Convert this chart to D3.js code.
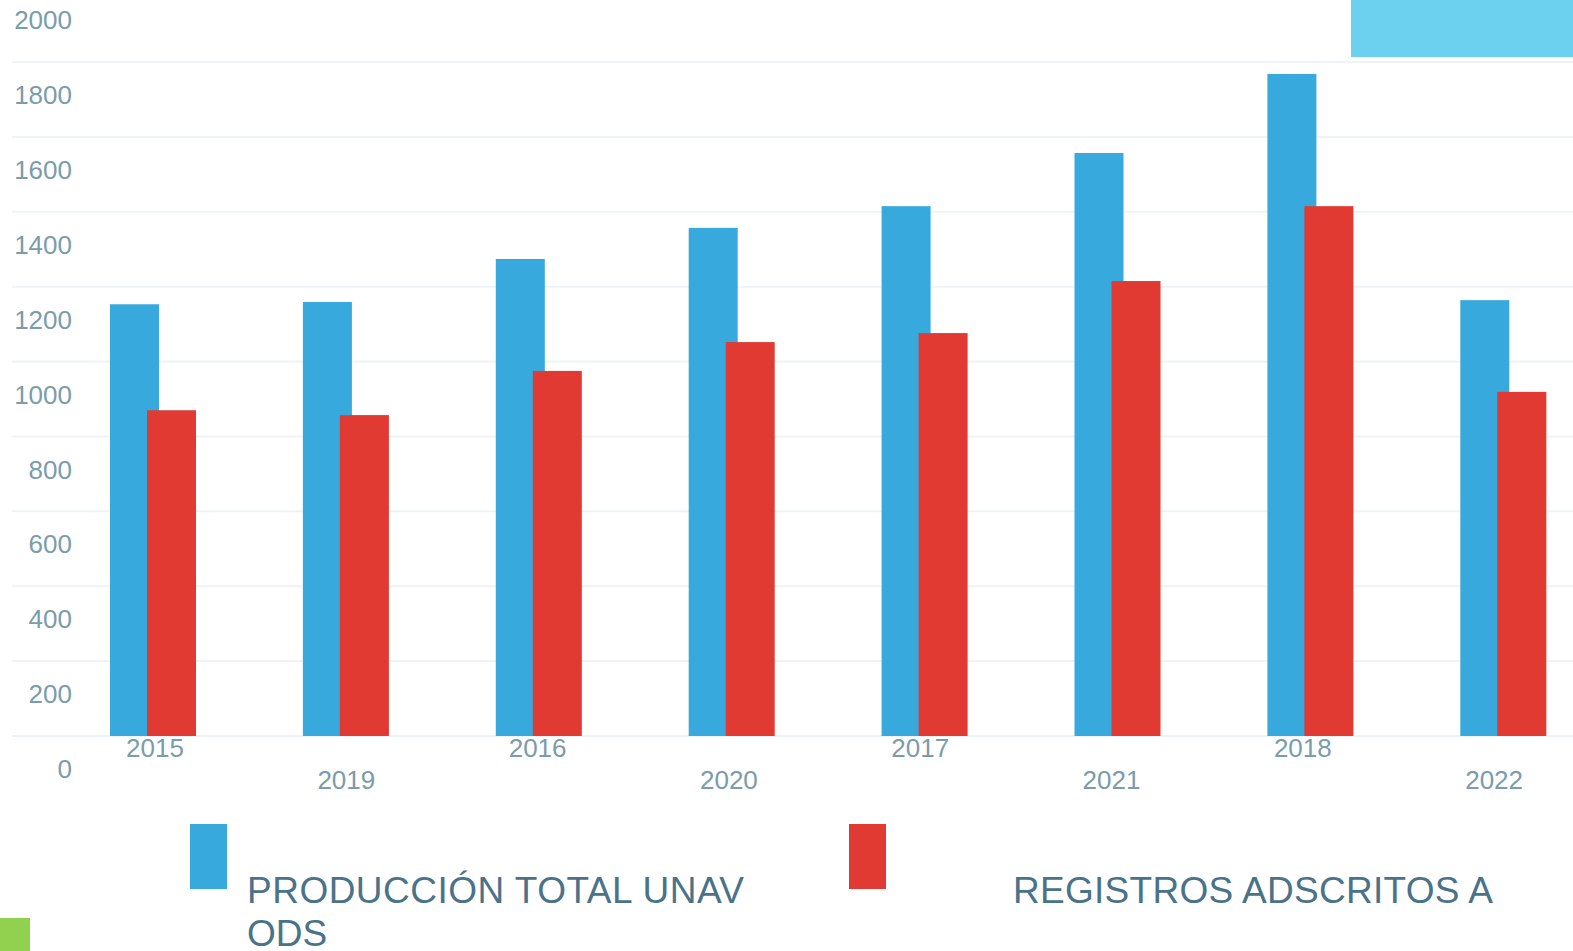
<!DOCTYPE html>
<html>
<head>
<meta charset="utf-8">
<script src="https://cdn.jsdelivr.net/npm/d3@7"></script>
<style>
  body { margin: 0; background: #fff; }
  svg { display: block; font-family: "Liberation Sans", Arial, sans-serif; }
</style>
</head>
<body>
<svg id="chart" width="1573" height="951"></svg>
<script>
// categories in the order they appear on the chart
let years = ["2015", "2019", "2016", "2020", "2017", "2021", "2018", "2022"];
let produccionTotal = [1153, 1159, 1274, 1357, 1415, 1557, 1768, 1164];
let registrosOds = [870, 857, 975, 1052, 1076, 1215, 1415, 919];
let yTicks = [0, 200, 400, 600, 800, 1000, 1200, 1400, 1600, 1800, 2000];
let seriesNames = ["PRODUCCIÓN TOTAL UNAV", "REGISTROS ADSCRITOS A"];

let svg = d3.select("#chart");
let blue = "#38a9dd", red = "#e03a33";

let y = d3.scaleLinear().domain([0, 1800]).range([736, 62]);
// bars and their labels run on slightly different steps in the original
let xBars = d3.scaleBand().domain(years).range([110, 110 + 8 * 192.9]).padding(0);
let xLabels = d3.scalePoint().domain(years).range([155, 155 + 7 * 191.3]);

// grid
svg.append("g")
    .selectAll("line")
    .data(yTicks.filter(d => y(d) > 0))
    .enter().append("line")
    .attr("x1", 12)
    .attr("x2", 1573)
    .attr("y1", d => y(d))
    .attr("y2", d => y(d))
    .attr("stroke", "#eef3f7")
    .attr("stroke-width", 2);

// y labels (sit about 33px below their gridline, as in the original)
svg.append("g")
    .selectAll("text")
    .data(yTicks)
    .enter().append("text")
    .attr("x", 72)
    .attr("y", d => y(d) + 33)
    .attr("dy", "0.35em")
    .attr("text-anchor", "end")
    .attr("fill", "#7a9cab")
    .style("font-size", "26px")
    .text(d => d);

let groups = svg.append("g")
    .selectAll("g")
    .data(years)
    .enter().append("g");

groups.append("rect")
    .attr("x", d => xBars(d))
    .attr("y", (d, i) => y(produccionTotal[i]))
    .attr("width", 49)
    .attr("height", (d, i) => y(0) - y(produccionTotal[i]))
    .attr("fill", blue);

groups.append("rect")
    .attr("x", d => xBars(d) + 37)
    .attr("y", (d, i) => y(registrosOds[i]))
    .attr("width", 49)
    .attr("height", (d, i) => y(0) - y(registrosOds[i]))
    .attr("fill", red);

// staggered x labels
groups.append("text")
    .attr("x", d => xLabels(d))
    .attr("y", (d, i) => i % 2 === 0 ? 748 : 780)
    .attr("dy", "0.35em")
    .attr("text-anchor", "middle")
    .attr("fill", "#7a9cab")
    .style("font-size", "26px")
    .text(d => d);

// decorative blocks
svg.append("rect").attr("x", 1351).attr("y", 0).attr("width", 222).attr("height", 57).attr("fill", "#6cd1ef");
svg.append("rect").attr("x", 0).attr("y", 918).attr("width", 30).attr("height", 33).attr("fill", "#92d050");

// legend
svg.append("rect").attr("x", 190).attr("y", 824).attr("width", 37).attr("height", 65).attr("fill", blue);
svg.append("rect").attr("x", 849).attr("y", 824).attr("width", 37).attr("height", 65).attr("fill", red);

let legendText = svg.append("g")
    .attr("fill", "#4a7389")
    .style("font-size", "37px");

legendText.append("text").attr("x", 247).attr("y", 903).attr("textLength", 497).text(seriesNames[0]);
legendText.append("text").attr("x", 247).attr("y", 946).text("ODS");
legendText.append("text").attr("x", 1013).attr("y", 903).attr("textLength", 480).text(seriesNames[1]);
</script>
</body>
</html>
